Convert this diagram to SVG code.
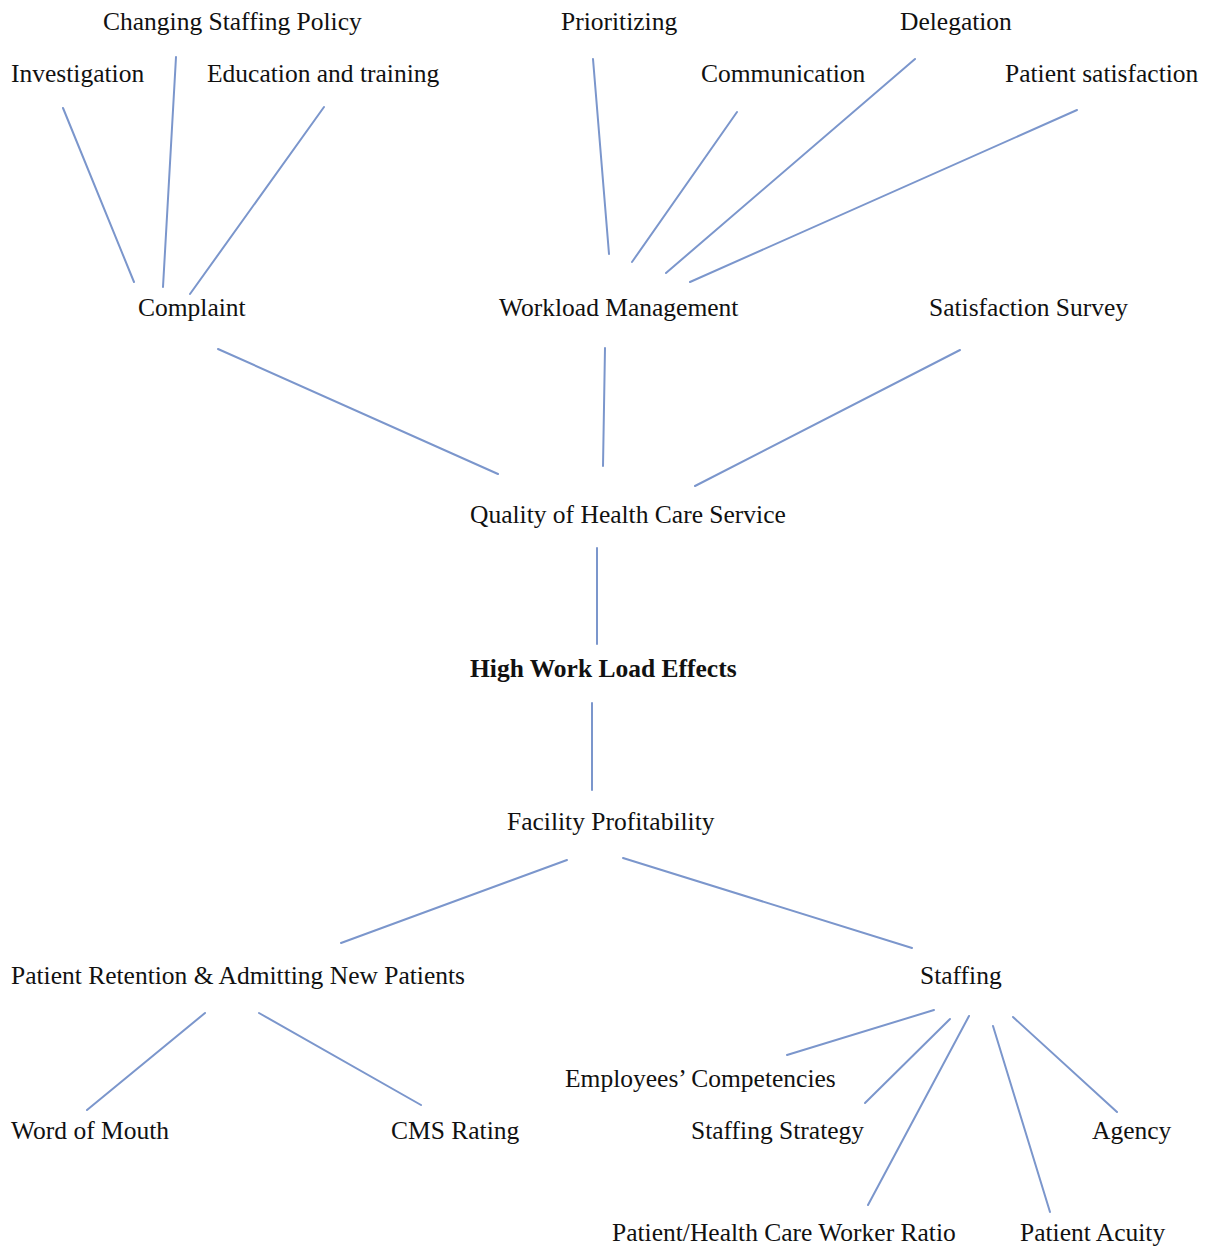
<svg xmlns="http://www.w3.org/2000/svg" width="1208" height="1248" viewBox="0 0 1208 1248">
<style>
text{font-family:"Liberation Serif","Times New Roman",serif;font-size:25.5px;fill:#111111}
.b{font-weight:bold}
#connectors line{stroke:#7b96cc;stroke-width:2;stroke-linecap:round}
</style>
<rect width="1208" height="1248" fill="#ffffff"/>
<g id="connectors">
<line x1="63" y1="108" x2="134" y2="282"/>
<line x1="176" y1="57" x2="163" y2="287"/>
<line x1="324" y1="107" x2="190" y2="294"/>
<line x1="593" y1="59" x2="609" y2="254"/>
<line x1="737" y1="112" x2="632" y2="262"/>
<line x1="915" y1="59" x2="666" y2="273"/>
<line x1="1077" y1="110" x2="690" y2="282"/>
<line x1="218" y1="349" x2="498" y2="474"/>
<line x1="605" y1="348" x2="603" y2="466"/>
<line x1="960" y1="350" x2="695" y2="486"/>
<line x1="597" y1="548" x2="597" y2="644"/>
<line x1="592" y1="703" x2="592" y2="790"/>
<line x1="567" y1="860" x2="341" y2="943"/>
<line x1="623" y1="858" x2="912" y2="948"/>
<line x1="205" y1="1013" x2="87" y2="1110"/>
<line x1="259" y1="1013" x2="421" y2="1105"/>
<line x1="934" y1="1010" x2="787" y2="1055"/>
<line x1="950" y1="1019" x2="865" y2="1103"/>
<line x1="969" y1="1016" x2="868" y2="1205"/>
<line x1="993" y1="1026" x2="1050" y2="1212"/>
<line x1="1013" y1="1017" x2="1117" y2="1112"/>
</g>
<g id="changing-staffing-policy"><text x="103" y="30">Changing Staffing Policy</text></g>
<g id="investigation"><text x="11" y="82">Investigation</text></g>
<g id="education-training"><text x="207" y="82">Education and training</text></g>
<g id="prioritizing"><text x="561" y="30">Prioritizing</text></g>
<g id="communication"><text x="701" y="82">Communication</text></g>
<g id="delegation"><text x="900" y="30">Delegation</text></g>
<g id="patient-satisfaction"><text x="1005" y="82">Patient satisfaction</text></g>
<g id="complaint"><text x="138" y="316">Complaint</text></g>
<g id="workload-management"><text x="499" y="316">Workload Management</text></g>
<g id="satisfaction-survey"><text x="929" y="316">Satisfaction Survey</text></g>
<g id="quality"><text x="470" y="523">Quality of Health Care Service</text></g>
<g id="high-work-load"><text class="b" x="470" y="677">High Work Load Effects</text></g>
<g id="facility-profitability"><text x="507" y="830">Facility Profitability</text></g>
<g id="patient-retention"><text x="11" y="984">Patient Retention &amp; Admitting New Patients</text></g>
<g id="staffing"><text x="920" y="984">Staffing</text></g>
<g id="employees-competencies"><text x="565" y="1087">Employees’ Competencies</text></g>
<g id="word-of-mouth"><text x="11" y="1139">Word of Mouth</text></g>
<g id="cms-rating"><text x="391" y="1139">CMS Rating</text></g>
<g id="staffing-strategy"><text x="691" y="1139">Staffing Strategy</text></g>
<g id="agency"><text x="1092" y="1139">Agency</text></g>
<g id="ratio"><text x="612" y="1241">Patient/Health Care Worker Ratio</text></g>
<g id="patient-acuity"><text x="1020" y="1241">Patient Acuity</text></g>
</svg>
